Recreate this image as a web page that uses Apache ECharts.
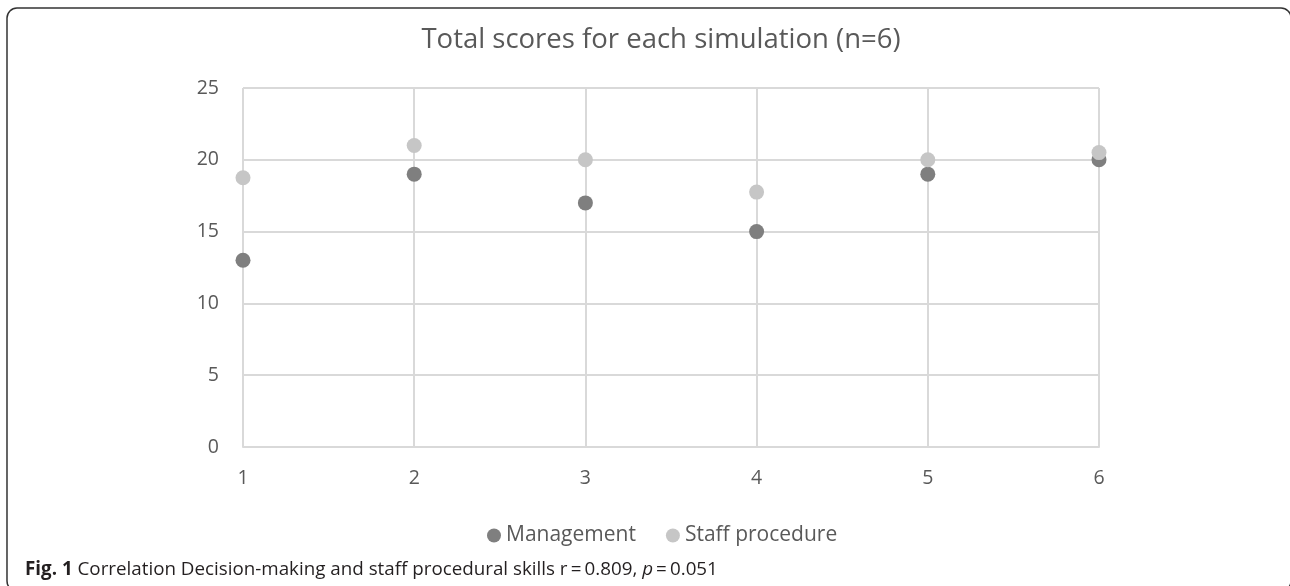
<!DOCTYPE html>
<html>
<head>
<meta charset="utf-8">
<script src="https://cdn.jsdelivr.net/npm/echarts@6/dist/echarts.min.js"></script>
<style>
html,body{margin:0;padding:0;background:#fff;}
#chart{width:1290px;height:586px;}
</style>
</head>
<body>
<div id="chart"></div>
<script>
const titleText = 'Total scores for each simulation (n=6)';
const simulations = [1, 2, 3, 4, 5, 6];
const management = [13, 19, 17, 15, 19, 20];
const staffProcedure = [18.75, 21, 20, 17.75, 20, 20.5];
const seriesNames = ['Management', 'Staff procedure'];
const yTicks = [0, 5, 10, 15, 20, 25];
const captionBold = 'Fig. 1';
const captionRest = ' Correlation Decision-making and staff procedural skills r\u2009=\u20090.809, ';
const captionP = 'p';
const captionEnd = '\u2009=\u20090.051';

const chart = echarts.init(document.getElementById('chart'), null, {renderer: 'canvas'});
const font = '"Open Sans", sans-serif';
const capFont = '"Open Sans", sans-serif';
const txt = '#595959';
const gridColor = '#d9d9d9';

chart.setOption({
  animation: false,
  backgroundColor: '#fff',
  title: {
    text: titleText,
    left: 656,
    textAlign: 'center',
    top: 21,
    textStyle: {fontFamily: font, fontSize: 27.5, fontWeight: 'normal', color: txt}
  },
  legend: {
    data: seriesNames,
    top: 520,
    left: 482,
    itemWidth: 14,
    itemHeight: 14,
    itemGap: 30,
    icon: 'circle',
    textStyle: {fontFamily: font, fontSize: 21, color: txt}
  },
  grid: {left: 243, right: 191, top: 88, bottom: 139},
  xAxis: {
    type: 'value',
    min: simulations[0],
    max: simulations[simulations.length - 1],
    interval: 1,
    axisLine: {show: true, lineStyle: {color: gridColor, width: 2}},
    axisTick: {show: false},
    splitLine: {show: true, lineStyle: {color: gridColor, width: 2}},
    axisLabel: {fontFamily: font, fontSize: 19.5, color: txt, margin: 21}
  },
  yAxis: {
    type: 'value',
    min: yTicks[0],
    max: yTicks[yTicks.length - 1],
    interval: 5,
    axisLine: {show: false},
    axisTick: {show: false},
    splitLine: {show: true, lineStyle: {color: gridColor, width: 2}},
    axisLabel: {fontFamily: font, fontSize: 19.5, color: txt, margin: 24}
  },
  series: [
    {
      name: seriesNames[0],
      type: 'scatter',
      symbolSize: 15,
      itemStyle: {color: '#7f7f7f', opacity: 1},
      data: simulations.map((s, i) => [s, management[i]])
    },
    {
      name: seriesNames[1],
      type: 'scatter',
      symbolSize: 15,
      itemStyle: {color: '#c6c6c6', opacity: 1},
      data: simulations.map((s, i) => [s, staffProcedure[i]])
    }
  ],
  graphic: [
    {
      type: 'rect',
      silent: true,
      shape: {x: 7, y: 8, width: 1284, height: 583, r: 10},
      style: {stroke: '#333', lineWidth: 1.5, fill: 'transparent'}
    },
    {
      type: 'text',
      left: 25,
      top: 560,
      style: {
        text: '{b|' + captionBold + '}{r|' + captionRest + '}{i|' + captionP + '}{r|' + captionEnd + '}',
        rich: {
          b: {fontFamily: capFont, fontSize: 18.8, fontWeight: 'bold', fill: '#231f20'},
          r: {fontFamily: capFont, fontSize: 18.8, fill: '#231f20'},
          i: {fontFamily: capFont, fontSize: 18.8, fontStyle: 'italic', fill: '#231f20'}
        }
      }
    }
  ]
});
</script>
</body>
</html>
